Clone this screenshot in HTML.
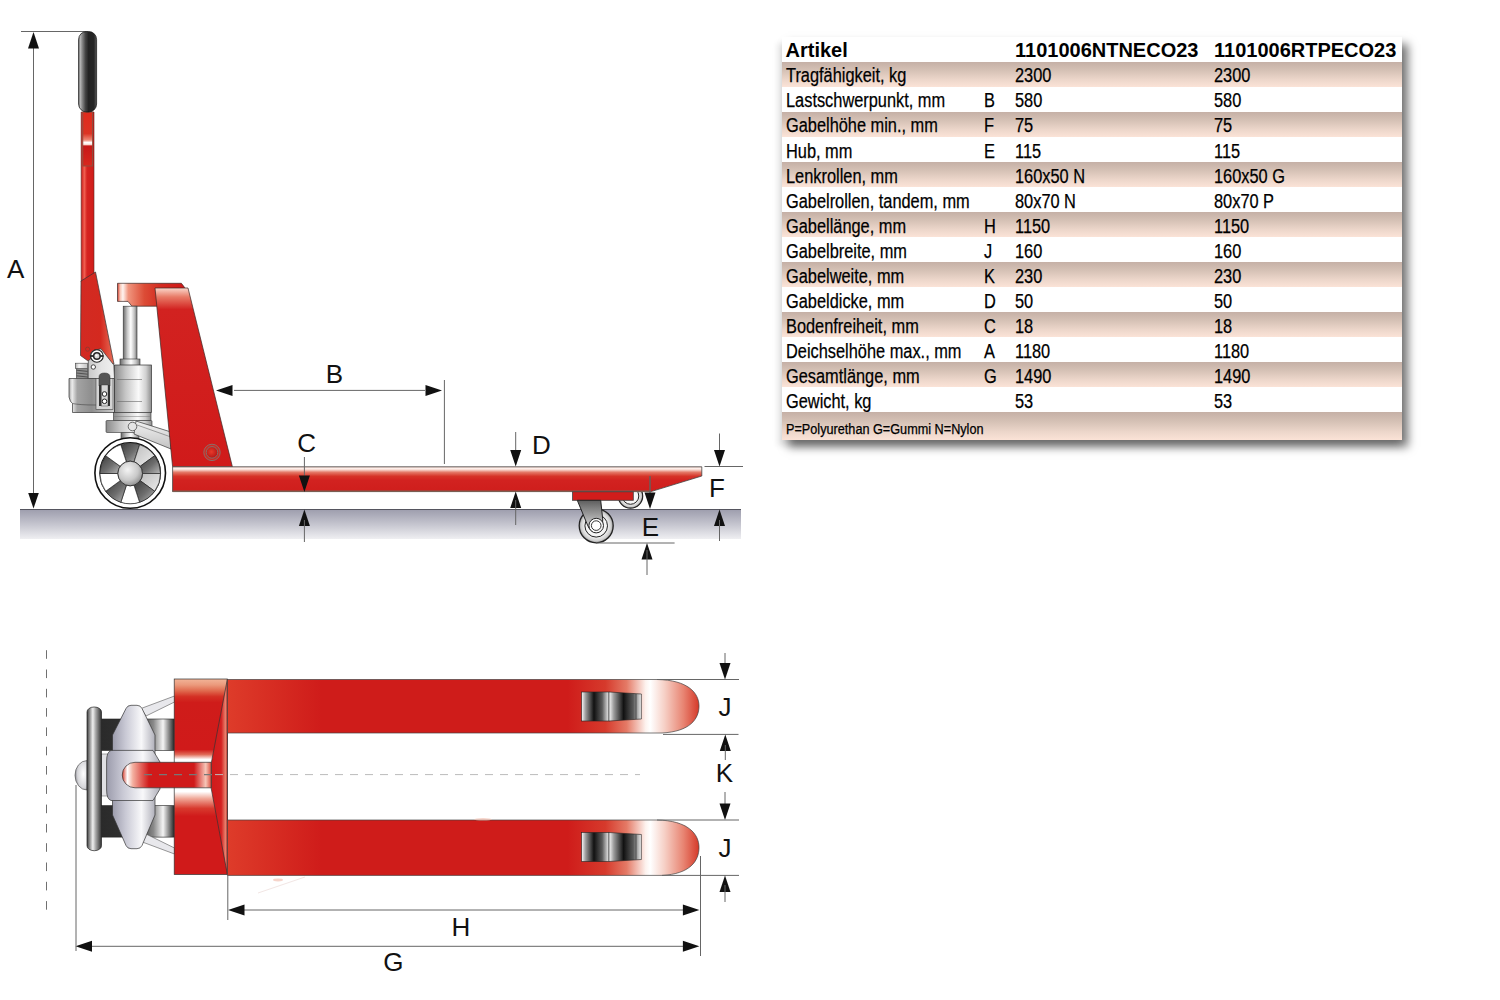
<!DOCTYPE html>
<html lang="de">
<head>
<meta charset="utf-8">
<title>Handhubwagen</title>
<style>
html,body{margin:0;padding:0;background:#fff;}
body{width:1500px;height:1000px;position:relative;overflow:hidden;font-family:"Liberation Sans",Arial,sans-serif;}
#draw{position:absolute;left:0;top:0;}
.tbl{position:absolute;left:782px;top:37px;width:620px;height:403px;background:#fff;box-shadow:6px 7px 9px rgba(0,0,0,0.55),-4px 6px 6px rgba(0,0,0,0.10);}
.row{position:absolute;left:0;width:620px;height:25px;}
.sh{background:linear-gradient(to bottom,#c5b0a6 0%,#d6c2b6 35%,#ecd6ca 70%,#fbe3d7 100%);}
.c{position:absolute;top:1.2px;white-space:nowrap;color:#000;font-size:20px;line-height:25px;transform-origin:0 50%;transform:scaleX(0.818);-webkit-text-stroke:0.25px #000;}
.hd .c{font-weight:bold;font-size:20px;transform:none;-webkit-text-stroke:0;}
.c1{left:3.5px}.c2{left:202px}.c3{left:233px}.c4{left:432px}
.row:nth-child(2) .c{top:1.28px}
.row:nth-child(3) .c{top:1.37px}
.row:nth-child(4) .c{top:1.46px}
.row:nth-child(5) .c{top:1.54px}
.row:nth-child(6) .c{top:1.62px}
.row:nth-child(7) .c{top:1.71px}
.row:nth-child(8) .c{top:1.79px}
.row:nth-child(9) .c{top:1.88px}
.row:nth-child(10) .c{top:1.96px}
.row:nth-child(11) .c{top:2.05px}
.row:nth-child(12) .c{top:2.13px}
.row:nth-child(13) .c{top:2.22px}
.row:nth-child(14) .c{top:2.30px}
.row:nth-child(15) .c{top:2.39px}
.c.fn{font-size:14px;transform:scaleX(0.905);}
</style>
</head>
<body>
<svg id="draw" width="1500" height="1000" viewBox="0 0 1500 1000">
<defs>
 <linearGradient id="gGround" x1="0" y1="0" x2="0" y2="1">
  <stop offset="0" stop-color="#9c9cac"/><stop offset="0.5" stop-color="#c4c4ce"/><stop offset="1" stop-color="#efeff2"/>
 </linearGradient>
 <linearGradient id="gForkS" x1="0" y1="0" x2="0" y2="1">
  <stop offset="0" stop-color="#f0c0b4"/><stop offset="0.05" stop-color="#fff6f2"/><stop offset="0.12" stop-color="#f8d8d0"/><stop offset="0.22" stop-color="#e47a68"/><stop offset="0.38" stop-color="#d63428"/><stop offset="0.55" stop-color="#d22220"/><stop offset="1" stop-color="#cf1e1c"/>
 </linearGradient>
 <linearGradient id="gGrip" x1="0" y1="0" x2="1" y2="0">
  <stop offset="0" stop-color="#555"/><stop offset="0.08" stop-color="#bdbdbd"/><stop offset="0.2" stop-color="#888"/><stop offset="0.38" stop-color="#444"/><stop offset="0.55" stop-color="#232323"/><stop offset="0.85" stop-color="#262626"/><stop offset="1" stop-color="#5a5a5a"/>
 </linearGradient>
 <linearGradient id="gRedBar" x1="0" y1="0" x2="1" y2="0">
  <stop offset="0" stop-color="#c81a18"/><stop offset="0.25" stop-color="#f06050"/><stop offset="0.45" stop-color="#d62420"/><stop offset="1" stop-color="#cf1c1a"/>
 </linearGradient>
 <linearGradient id="gSlot" x1="0" y1="0" x2="0" y2="1">
  <stop offset="0" stop-color="#e02a1c"/><stop offset="0.4" stop-color="#dc3424"/><stop offset="0.52" stop-color="#ee8a78"/><stop offset="0.565" stop-color="#ffffff"/><stop offset="0.6" stop-color="#fde8e0"/><stop offset="0.63" stop-color="#c81818"/><stop offset="1" stop-color="#d8281e"/>
 </linearGradient>
 <linearGradient id="gHandleLow" x1="0" y1="0" x2="1" y2="0">
  <stop offset="0" stop-color="#d22a22"/><stop offset="0.6" stop-color="#d4291f"/><stop offset="1" stop-color="#e8705a"/>
 </linearGradient>
 <linearGradient id="gHead" x1="0" y1="0" x2="1" y2="0">
  <stop offset="0" stop-color="#d23a2a"/><stop offset="0.04" stop-color="#f8c8b8"/><stop offset="0.08" stop-color="#fff4f0"/><stop offset="0.16" stop-color="#f0957e"/><stop offset="0.4" stop-color="#dc4c36"/><stop offset="0.65" stop-color="#d42a20"/><stop offset="1" stop-color="#d01818"/>
 </linearGradient>
 <linearGradient id="gFrame" x1="0" y1="0" x2="0" y2="1">
  <stop offset="0" stop-color="#fbd8cc"/><stop offset="0.05" stop-color="#e87a66"/><stop offset="0.12" stop-color="#d22220"/><stop offset="1" stop-color="#d01a1a"/>
 </linearGradient>
 <linearGradient id="gCyl" x1="0" y1="0" x2="1" y2="0">
  <stop offset="0" stop-color="#6a6a6a"/><stop offset="0.3" stop-color="#c8c8c8"/><stop offset="0.55" stop-color="#ffffff"/><stop offset="0.8" stop-color="#c4c4c4"/><stop offset="1" stop-color="#7a7a7a"/>
 </linearGradient>
 <linearGradient id="gBody" x1="0" y1="0" x2="1" y2="0">
  <stop offset="0" stop-color="#8a8a8a"/><stop offset="0.3" stop-color="#c6c6c6"/><stop offset="0.65" stop-color="#fafafa"/><stop offset="0.85" stop-color="#d0d0d0"/><stop offset="1" stop-color="#8c8c8c"/>
 </linearGradient>
 <linearGradient id="gBodyL" x1="0" y1="0" x2="1" y2="0">
  <stop offset="0" stop-color="#a8a8a8"/><stop offset="0.07" stop-color="#ececec"/><stop offset="0.18" stop-color="#a4a4a4"/><stop offset="0.5" stop-color="#8e8e8e"/><stop offset="0.8" stop-color="#b4b4b4"/><stop offset="1" stop-color="#d0d0d0"/>
 </linearGradient>
 <linearGradient id="gSpokeD" x1="0" y1="0" x2="1" y2="1">
  <stop offset="0" stop-color="#3a3a3a"/><stop offset="0.55" stop-color="#6e6e6e"/><stop offset="1" stop-color="#b8b8b8"/>
 </linearGradient>
 <linearGradient id="gSpokeL" x1="0" y1="0" x2="1" y2="1">
  <stop offset="0" stop-color="#bdbdbd"/><stop offset="1" stop-color="#ededed"/>
 </linearGradient>
 <radialGradient id="gHub" cx="0.4" cy="0.35" r="0.7">
  <stop offset="0" stop-color="#f4f4f4"/><stop offset="0.6" stop-color="#c9c9c9"/><stop offset="1" stop-color="#8a8a8a"/>
 </radialGradient>
 <linearGradient id="gArm" x1="0" y1="0" x2="0" y2="1">
  <stop offset="0" stop-color="#f2f2f2"/><stop offset="1" stop-color="#c2c2c2"/>
 </linearGradient>
 <radialGradient id="gBolt" cx="0.45" cy="0.45" r="0.6">
  <stop offset="0" stop-color="#e83a2a"/><stop offset="1" stop-color="#b01414"/>
 </radialGradient>
 <linearGradient id="gNut" x1="0" y1="0" x2="1" y2="0">
  <stop offset="0" stop-color="#b0b0b0"/><stop offset="0.3" stop-color="#f4f4f4"/><stop offset="1" stop-color="#c4c4c4"/>
 </linearGradient>
 <linearGradient id="gPlate" x1="0" y1="0" x2="1" y2="0">
  <stop offset="0" stop-color="#c8c8c8"/><stop offset="0.5" stop-color="#e4e4e4"/><stop offset="1" stop-color="#f0f0f0"/>
 </linearGradient>
 <radialGradient id="gRoller2" cx="0.5" cy="0.5" r="0.5">
  <stop offset="0" stop-color="#fff"/><stop offset="0.65" stop-color="#f4f4f4"/><stop offset="0.88" stop-color="#cfcfcf"/><stop offset="1" stop-color="#909090"/>
 </radialGradient>
 <linearGradient id="gBracket" x1="0" y1="0" x2="0" y2="1">
  <stop offset="0" stop-color="#5e5e5e"/><stop offset="0.5" stop-color="#a4a4a4"/><stop offset="1" stop-color="#ececec"/>
 </linearGradient>
 <radialGradient id="gRoller" cx="0.5" cy="0.5" r="0.5">
  <stop offset="0" stop-color="#fff"/><stop offset="0.55" stop-color="#e8e8e8"/><stop offset="0.8" stop-color="#bbb"/><stop offset="1" stop-color="#f2f2f2"/>
 </radialGradient>
</defs>

<!-- ground -->
<rect x="20" y="509" width="721" height="30" fill="url(#gGround)"/>
<line x1="20" y1="509.5" x2="741" y2="509.5" stroke="#55555f" stroke-width="1.2"/>

<!-- dimension A -->
<g stroke="#666" stroke-width="1" fill="none">
 <line x1="33.5" y1="40" x2="33.5" y2="500"/>
 <polyline points="21,31.5 86,31.5 91,34"/>
</g>
<g fill="#111">
 <polygon points="33.5,32 28,48.5 39,48.5"/>
 <polygon points="33.5,508.5 28.2,493 38.8,493"/>
</g>

<!-- handle -->
<path d="M81.2,112 L94,112 L94,275 L81.2,282 Z" fill="url(#gRedBar)" stroke="#5a2a22" stroke-width="0.6"/>
<rect x="82.8" y="112" width="9.8" height="54" fill="url(#gSlot)" stroke="#8a5040" stroke-width="0.9"/>
<rect x="78.6" y="31.5" width="18" height="80.5" rx="8" ry="8" fill="url(#gGrip)" stroke="#111" stroke-width="0.7"/>
<path d="M81,281 L95.5,272 L114,364 L87.4,360.5 L80.5,355.5 Z" fill="url(#gHandleLow)" stroke="#333" stroke-width="0.7"/>

<!-- frame head and body -->
<path d="M117.5,283.3 L181.4,283.3 L184.7,287.6 L184,306.2 L131.9,306.2 L128,301.4 L117.5,301.4 Z" fill="url(#gHead)" stroke="#3a2a28" stroke-width="0.7"/>
<!-- piston cylinder -->
<rect x="123.2" y="306.2" width="13.8" height="54" fill="url(#gCyl)" stroke="#333" stroke-width="0.6"/>
<rect x="120" y="359" width="20" height="7" fill="url(#gCyl)" stroke="#333" stroke-width="0.6"/>

<!-- pump body -->
<path d="M69,378.5 L114.5,378.5 L114.5,412.5 L72.5,412.5 L72.5,403.5 Q70,402 69,397 Z" fill="url(#gBodyL)" stroke="#333" stroke-width="0.7"/>
<path d="M72.5,403.5 Q80,405 95,405 L96,405" fill="none" stroke="#444" stroke-width="0.6"/>
<rect x="76.3" y="368.4" width="11.4" height="10.2" fill="#8c8c8c" stroke="#444" stroke-width="0.6"/>
<g stroke="#4a4a4a" stroke-width="0.9"><line x1="76.5" y1="370.2" x2="87.5" y2="371.4"/><line x1="76.5" y1="373" x2="87.5" y2="374.2"/><line x1="76.5" y1="375.8" x2="87.5" y2="377"/></g>
<rect x="75.3" y="363.2" width="12.3" height="5.4" fill="url(#gNut)" stroke="#444" stroke-width="0.6"/>
<rect x="114.5" y="365" width="37" height="47.5" fill="url(#gBody)" stroke="#333" stroke-width="0.7"/>
<path d="M88.3,378.5 L88.3,361 L90.8,358.5 A6.3,6.3 0 0 1 97,349.7 L101,348.8 L113.8,365 L114.5,378.5 Z" fill="url(#gPlate)" stroke="#333" stroke-width="0.7"/>
<circle cx="96.9" cy="356" r="6.3" fill="#fff" stroke="#222" stroke-width="1.1"/>
<circle cx="96.9" cy="356" r="4" fill="#262626"/>
<rect x="90.4" y="355.1" width="13" height="1.8" fill="#262626"/>
<circle cx="96.9" cy="356" r="2.5" fill="#d8d8d8"/>
<circle cx="96.4" cy="355.5" r="1.1" fill="#fff"/>
<circle cx="93.3" cy="367" r="2.2" fill="#fff" stroke="#333" stroke-width="0.9"/>
<circle cx="87.6" cy="349.2" r="2.1" fill="none" stroke="#7a3a30" stroke-width="0.6"/>
<rect x="96" y="378.5" width="17" height="31" fill="#d4d4d4" stroke="#444" stroke-width="0.6"/>
<path d="M99,386 L99,377 Q99,373 104.5,373 Q110,373 110,377 L110,386 Z" fill="#555" stroke="#333" stroke-width="0.5"/>
<rect x="99" y="385" width="11" height="21" fill="#333"/>
<rect x="101.2" y="385" width="6.8" height="21" fill="#d6d6d6" stroke="#333" stroke-width="0.4"/>
<circle cx="104.5" cy="394" r="2.3" fill="#fff" stroke="#222" stroke-width="1"/>
<circle cx="104.5" cy="401.3" r="2.3" fill="#fff" stroke="#222" stroke-width="1"/>
<g stroke="#666" stroke-width="0.6"><line x1="117" y1="379.5" x2="142" y2="379.5"/><line x1="117" y1="401.5" x2="142" y2="401.5"/></g>
<rect x="113.5" y="412.5" width="37.5" height="8" fill="url(#gBody)" stroke="#333" stroke-width="0.6"/>
<line x1="114" y1="416.5" x2="150" y2="416.5" stroke="#777" stroke-width="0.5"/>
<rect x="121" y="432" width="18" height="8" fill="url(#gCyl)" stroke="#333" stroke-width="0.5"/>
<rect x="106" y="420.5" width="46" height="12" rx="1" fill="url(#gBody)" stroke="#333" stroke-width="0.6"/>

<!-- wheel -->
<g>
 <circle cx="130.2" cy="473" r="35.3" fill="#fff" stroke="#111" stroke-width="1.6"/>
 <circle cx="130.2" cy="473" r="30.3" fill="#fff" stroke="#111" stroke-width="1.2"/>
 <g id="spokes" stroke="#222" stroke-width="0.7">
  <path d="M126.4,461.8 L120.8,444.7 A30.3,30.3 0 0 1 139.6,444.7 L134.0,461.8 A12.3,12.3 0 0 0 126.4,461.8 Z" fill="url(#gSpokeD)"/>
  <path d="M134.0,461.8 L139.6,444.7 A30.3,30.3 0 0 1 154.7,455.7 L140.2,466.3 A12.3,12.3 0 0 0 134.0,461.8 Z" fill="url(#gSpokeL)"/>
  <path d="M140.2,466.3 L154.7,455.7 A30.3,30.3 0 0 1 160.5,473.5 L142.5,473.5 A12.3,12.3 0 0 0 140.2,466.3 Z" fill="url(#gSpokeD)"/>
  <path d="M142.5,473.5 L160.5,473.5 A30.3,30.3 0 0 1 154.7,491.3 L140.2,480.7 A12.3,12.3 0 0 0 142.5,473.5 Z" fill="url(#gSpokeL)"/>
  <path d="M140.2,480.7 L154.7,491.3 A30.3,30.3 0 0 1 139.6,502.3 L134.0,485.2 A12.3,12.3 0 0 0 140.2,480.7 Z" fill="url(#gSpokeD)"/>
  <path d="M134.0,485.2 L139.6,502.3 A30.3,30.3 0 0 1 120.8,502.3 L126.4,485.2 A12.3,12.3 0 0 0 134.0,485.2 Z" fill="#fff"/>
  <path d="M126.4,485.2 L120.8,502.3 A30.3,30.3 0 0 1 105.7,491.3 L120.2,480.7 A12.3,12.3 0 0 0 126.4,485.2 Z" fill="url(#gSpokeD)"/>
  <path d="M120.2,480.7 L105.7,491.3 A30.3,30.3 0 0 1 99.9,473.5 L117.9,473.5 A12.3,12.3 0 0 0 120.2,480.7 Z" fill="#fff"/>
  <path d="M117.9,473.5 L99.9,473.5 A30.3,30.3 0 0 1 105.7,455.7 L120.2,466.3 A12.3,12.3 0 0 0 117.9,473.5 Z" fill="url(#gSpokeD)"/>
  <path d="M120.2,466.3 L105.7,455.7 A30.3,30.3 0 0 1 120.8,444.7 L126.4,461.8 A12.3,12.3 0 0 0 120.2,466.3 Z" fill="#fff"/>
 </g>
 <circle cx="130.2" cy="473.5" r="12.3" fill="url(#gHub)" stroke="#222" stroke-width="0.8"/>
</g>
<!-- link arm -->
<path d="M136,421 L171,432 L171,449 L134,434 Z" fill="url(#gArm)" stroke="#333" stroke-width="0.7"/>
<line x1="137" y1="425" x2="171" y2="437" stroke="#555" stroke-width="0.5"/>
<circle cx="132.5" cy="426.5" r="4.3" fill="#e6e6e6" stroke="#333" stroke-width="0.7"/>

<!-- frame body -->
<path d="M155,288 L188,288 L232.4,466.8 L172.6,466.8 Z" fill="url(#gFrame)" stroke="#3a2624" stroke-width="0.7"/>
<circle cx="212" cy="452.4" r="8.2" fill="#d02a22" stroke="#8a6e6a" stroke-width="1"/>
<circle cx="212" cy="452.4" r="5.8" fill="url(#gBolt)" stroke="#8a6e6a" stroke-width="1"/>

<!-- fork side -->
<circle cx="630.5" cy="496" r="12.2" fill="url(#gRoller2)" stroke="#222" stroke-width="1.2"/>
<circle cx="630.5" cy="496" r="8.3" fill="none" stroke="#222" stroke-width="1"/>
<path d="M172.6,466.8 L701.8,466.8 L701.8,476 L651,491.6 L172.6,491.6 Z" fill="url(#gForkS)" stroke="#444" stroke-width="0.8"/>
<line x1="172.6" y1="491.2" x2="651" y2="491.2" stroke="#7a5e52" stroke-width="1.4"/>
<line x1="650" y1="476" x2="650" y2="491.5" stroke="#6a5048" stroke-width="1"/>
<!-- fork rollers -->
<rect x="572.5" y="491.8" width="60.8" height="8.5" fill="#d11d1b" stroke="#444" stroke-width="0.8"/>
<circle cx="596.2" cy="525.8" r="17" fill="url(#gRoller2)" stroke="#222" stroke-width="1.3"/>
<circle cx="596.2" cy="525.8" r="11.3" fill="none" stroke="#222" stroke-width="1"/>
<path d="M577.3,500.3 L600.7,500.3 L602.7,519 Q603.5,531 596,532 Q590,532 587.5,525 Z" fill="url(#gBracket)" stroke="#222" stroke-width="1"/>
<circle cx="596.2" cy="525.6" r="7.3" fill="#fafafa" stroke="#222" stroke-width="1"/>
<circle cx="596.2" cy="525.6" r="4.8" fill="#fff" stroke="#222" stroke-width="0.9"/>

<defs>
 <linearGradient id="gForkT" x1="227" y1="0" x2="700" y2="0" gradientUnits="userSpaceOnUse">
  <stop offset="0" stop-color="#de3c2a"/><stop offset="0.2" stop-color="#cf1c1a"/><stop offset="0.72" stop-color="#cf1c1a"/><stop offset="0.8" stop-color="#d63a2c"/><stop offset="0.845" stop-color="#e47a66"/><stop offset="0.885" stop-color="#fdf2ee"/><stop offset="0.895" stop-color="#ffffff"/><stop offset="0.925" stop-color="#f6d0c6"/><stop offset="0.965" stop-color="#e88472"/><stop offset="1" stop-color="#d43424"/>
 </linearGradient>
 <linearGradient id="gFrameT" x1="0" y1="679" x2="0" y2="875" gradientUnits="userSpaceOnUse">
  <stop offset="0" stop-color="#f2b498"/><stop offset="0.03" stop-color="#eb9a7c"/><stop offset="0.06" stop-color="#e06a4e"/><stop offset="0.09" stop-color="#d43024"/><stop offset="0.12" stop-color="#cf1c1a"/><stop offset="0.36" stop-color="#d01a1a"/><stop offset="0.385" stop-color="#e06a58"/><stop offset="0.41" stop-color="#ffffff"/>
  <stop offset="0.575" stop-color="#ffffff"/><stop offset="0.61" stop-color="#f0a898"/><stop offset="0.66" stop-color="#d83a2e"/><stop offset="0.7" stop-color="#d01a1a"/><stop offset="1" stop-color="#d01a1a"/>
 </linearGradient>
 <linearGradient id="gChev" x1="211" y1="0" x2="228" y2="0" gradientUnits="userSpaceOnUse">
  <stop offset="0" stop-color="#d01a1a"/><stop offset="0.6" stop-color="#d42020"/><stop offset="0.85" stop-color="#e8806c"/><stop offset="1" stop-color="#c82020"/>
 </linearGradient>
 <linearGradient id="gHandleT" x1="122" y1="0" x2="212" y2="0" gradientUnits="userSpaceOnUse">
  <stop offset="0" stop-color="#d43020"/><stop offset="0.06" stop-color="#ffffff"/><stop offset="0.12" stop-color="#f4b0a0"/><stop offset="0.3" stop-color="#d01a1a"/><stop offset="0.8" stop-color="#d01a1a"/><stop offset="0.93" stop-color="#f6c6b8"/><stop offset="1" stop-color="#d84030"/>
 </linearGradient>
 <linearGradient id="gGripT" x1="0" y1="0" x2="1" y2="0">
  <stop offset="0" stop-color="#3c3c3c"/><stop offset="0.4" stop-color="#f0f0f0"/><stop offset="0.6" stop-color="#a8a8a8"/><stop offset="1" stop-color="#303030"/>
 </linearGradient>
 <linearGradient id="gWheelT" x1="101" y1="0" x2="174" y2="0" gradientUnits="userSpaceOnUse">
  <stop offset="0" stop-color="#2a2a2a"/><stop offset="0.5" stop-color="#333"/><stop offset="0.72" stop-color="#8a8a8a"/><stop offset="0.85" stop-color="#f4f4f4"/><stop offset="1" stop-color="#2a2a2a"/>
 </linearGradient>
 <linearGradient id="gSilver" x1="0" y1="0" x2="1" y2="0">
  <stop offset="0" stop-color="#9c9cac"/><stop offset="0.3" stop-color="#c8c8d4"/><stop offset="0.68" stop-color="#f8f8fa"/><stop offset="1" stop-color="#b0b0ba"/>
 </linearGradient>
 <radialGradient id="gDome" cx="0.7" cy="0.45" r="0.7">
  <stop offset="0" stop-color="#ffffff"/><stop offset="0.7" stop-color="#d4d4d8"/><stop offset="1" stop-color="#8a8a90"/>
 </radialGradient>
 <linearGradient id="gRollT" x1="0" y1="0" x2="1" y2="0">
  <stop offset="0" stop-color="#fafafa"/><stop offset="0.15" stop-color="#9a9a9a"/><stop offset="0.45" stop-color="#111"/><stop offset="0.75" stop-color="#5a5a5a"/><stop offset="1" stop-color="#f0f0f0"/>
 </linearGradient>
</defs>

<!-- dashed line left -->
<line x1="46.5" y1="650.2" x2="46.5" y2="910" stroke="#707070" stroke-width="1" stroke-dasharray="8.6,10.7"/>

<!-- wheels (behind) -->
<rect x="101.5" y="719" width="73" height="31.5" fill="url(#gWheelT)" stroke="#222" stroke-width="0.6"/>
<rect x="101.5" y="805.6" width="73" height="31.5" fill="url(#gWheelT)" stroke="#222" stroke-width="0.6"/>
<rect x="101.5" y="754" width="12" height="42" fill="#e0e0e4" stroke="#555" stroke-width="0.5"/>

<!-- struts -->
<path d="M141,708.5 L174.5,696 L174.5,702 L146,716 Z" fill="#e8e8ec" stroke="#555" stroke-width="0.6"/>
<path d="M141,841.5 L174.5,854 L174.5,848 L146,834 Z" fill="#e8e8ec" stroke="#555" stroke-width="0.6"/>

<!-- silver body -->
<path d="M112.5,762 L112.5,735 L126,708.5 Q127.5,705.3 131,705.3 L137,705.3 Q140.5,705.3 142,708.5 L155,735 L155,762 Z" fill="url(#gSilver)" stroke="#333" stroke-width="0.7"/>
<path d="M112.5,788 L112.5,815 L126,845.5 Q127.5,848.7 131,848.7 L137,848.7 Q140.5,848.7 142,845.5 L155,815 L155,788 Z" fill="url(#gSilver)" stroke="#333" stroke-width="0.7"/>
<path d="M111,750.4 L153,750.4 L160,762 L160,789 L153,800.5 L111,800.5 Q106.6,799 106.6,790 L106.6,761 Q106.6,752 111,750.4 Z" fill="url(#gSilver)" stroke="#333" stroke-width="0.7"/>

<!-- grip bar + dome -->
<path d="M87,760.6 A12,14.7 0 0 0 87,790 Z" fill="url(#gDome)" stroke="#444" stroke-width="0.6"/>
<rect x="87" y="707" width="14.5" height="143.7" rx="7" ry="5" fill="url(#gGripT)" stroke="#222" stroke-width="0.7"/>

<!-- frame block -->
<rect x="174.2" y="679" width="53.2" height="195.5" fill="url(#gFrameT)" stroke="#333" stroke-width="0.7"/>
<path d="M227.4,679 L211.2,763.5 L211.2,788.3 L227.4,874.5 Z" fill="url(#gChev)" stroke="#333" stroke-width="0.7"/>

<!-- handle bar -->
<path d="M211.2,762.3 L135,762.3 A12.75,12.75 0 0 0 135,787.8 L211.2,787.8 Z" fill="url(#gHandleT)" stroke="#333" stroke-width="0.7"/>

<!-- forks -->
<path d="M227.4,679.5 L657,679.5 C688,680 699,693 699,706 C699,719 690,731.5 662,733 L227.4,733 Z" fill="url(#gForkT)" stroke="#444" stroke-width="0.7"/>
<path d="M227.4,820 L657,820 C688,820.5 699,834 699,847.5 C699,861 690,874 662,875.4 L227.4,875.4 Z" fill="url(#gForkT)" stroke="#444" stroke-width="0.7"/>
<!-- fork rollers -->
<g stroke="#222" stroke-width="0.6">
 <rect x="581.6" y="692" width="27.4" height="29" fill="url(#gRollT)"/>
 <path d="M609,692 L641.4,694 L641.4,719 L609,721 Z" fill="url(#gRollT)"/>
 <line x1="636" y1="694" x2="636" y2="719"/>
 <rect x="581.6" y="832.5" width="27.4" height="29" fill="url(#gRollT)"/>
 <path d="M609,832.5 L641.4,834.5 L641.4,859.5 L609,861.5 Z" fill="url(#gRollT)"/>
 <line x1="636" y1="834.5" x2="636" y2="859.5"/>
</g>

<!-- faint artifacts -->
<ellipse cx="278" cy="880" rx="5" ry="1.4" fill="#f2c2b4" opacity="0.7"/>
<ellipse cx="483" cy="819.3" rx="9" ry="1.3" fill="#f2c2b4" opacity="0.7"/>
<line x1="258" y1="893" x2="305" y2="877" stroke="#f2e6e4" stroke-width="1"/>
<!-- center dashed -->
<line x1="144" y1="774.6" x2="215" y2="774.6" stroke="#777" stroke-width="1.2" stroke-dasharray="8,7"/>
<line x1="215" y1="774.6" x2="640" y2="774.6" stroke="#bbb" stroke-width="1" stroke-dasharray="8,7"/>

<line x1="234" y1="390.4" x2="425" y2="390.4" stroke="#666" stroke-width="1.0"/>
<polygon points="216.0,390.4 232.5,384.9 232.5,395.9" fill="#111"/>
<polygon points="442.0,390.4 425.5,384.9 425.5,395.9" fill="#111"/>
<line x1="444.4" y1="380" x2="444.4" y2="464" stroke="#666" stroke-width="1.0"/>
<line x1="304.4" y1="457" x2="304.4" y2="480" stroke="#666" stroke-width="1.0"/>
<polygon points="304.4,492.0 298.9,475.5 309.9,475.5" fill="#111"/>
<polygon points="304.4,509.5 298.9,526.0 309.9,526.0" fill="#111"/>
<line x1="304.4" y1="520" x2="304.4" y2="542" stroke="#666" stroke-width="1.0"/>
<line x1="515.7" y1="432" x2="515.7" y2="455" stroke="#666" stroke-width="1.0"/>
<polygon points="515.7,466.5 510.2,450.0 521.2,450.0" fill="#111"/>
<polygon points="515.7,491.5 510.2,508.0 521.2,508.0" fill="#111"/>
<line x1="515.7" y1="500" x2="515.7" y2="525" stroke="#666" stroke-width="1.0"/>
<line x1="719.5" y1="433.5" x2="719.5" y2="455" stroke="#666" stroke-width="1.0"/>
<polygon points="719.5,466.5 714.0,450.0 725.0,450.0" fill="#111"/>
<line x1="704.5" y1="466.5" x2="743" y2="466.5" stroke="#666" stroke-width="1.0"/>
<polygon points="719.5,509.5 714.0,526.0 725.0,526.0" fill="#111"/>
<line x1="719.5" y1="520" x2="719.5" y2="541" stroke="#666" stroke-width="1.0"/>
<line x1="650" y1="476" x2="650" y2="495" stroke="#666" stroke-width="1.0"/>
<polygon points="650.0,509.0 644.5,492.5 655.5,492.5" fill="#111"/>
<line x1="596" y1="543" x2="674.6" y2="543" stroke="#666" stroke-width="1.0"/>
<polygon points="647.0,543.0 641.5,559.5 652.5,559.5" fill="#111"/>
<line x1="647" y1="550" x2="647" y2="575" stroke="#666" stroke-width="1.0"/>
<line x1="725" y1="653" x2="725" y2="668" stroke="#666" stroke-width="1.0"/>
<polygon points="725.0,679.5 719.5,663.0 730.5,663.0" fill="#111"/>
<line x1="657" y1="679.5" x2="739" y2="679.5" stroke="#666" stroke-width="1.0"/>
<line x1="663" y1="734.4" x2="738.5" y2="734.4" stroke="#666" stroke-width="1.0"/>
<polygon points="725.3,734.4 719.8,750.9 730.8,750.9" fill="#111"/>
<line x1="725.3" y1="745" x2="725.3" y2="760" stroke="#666" stroke-width="1.0"/>
<line x1="725" y1="792" x2="725" y2="810" stroke="#666" stroke-width="1.0"/>
<polygon points="725.0,820.0 719.5,803.5 730.5,803.5" fill="#111"/>
<line x1="657" y1="820" x2="739" y2="820" stroke="#666" stroke-width="1.0"/>
<line x1="662" y1="875.4" x2="739" y2="875.4" stroke="#666" stroke-width="1.0"/>
<polygon points="725.0,875.4 719.5,891.9 730.5,891.9" fill="#111"/>
<line x1="725" y1="885" x2="725" y2="902" stroke="#666" stroke-width="1.0"/>
<line x1="237" y1="910" x2="690" y2="910" stroke="#666" stroke-width="1.0"/>
<polygon points="228.0,910.0 244.5,904.5 244.5,915.5" fill="#111"/>
<polygon points="699.4,910.0 682.9,904.5 682.9,915.5" fill="#111"/>
<line x1="227.8" y1="875" x2="227.8" y2="920" stroke="#666" stroke-width="1.0"/>
<line x1="85" y1="946.3" x2="690" y2="946.3" stroke="#666" stroke-width="1.0"/>
<polygon points="75.5,946.3 92.0,940.8 92.0,951.8" fill="#111"/>
<polygon points="699.4,946.3 682.9,940.8 682.9,951.8" fill="#111"/>
<line x1="76" y1="785" x2="76" y2="951" stroke="#666" stroke-width="1.0"/>
<line x1="700.5" y1="856" x2="700.5" y2="956" stroke="#666" stroke-width="1.0"/>
<g font-family="Liberation Sans, Arial, sans-serif" font-size="26" fill="#111">
<text x="7" y="277.8">A</text>
<text x="325.7" y="383.4">B</text>
<text x="297.2" y="451.6">C</text>
<text x="532" y="453.7">D</text>
<text x="641.8" y="535.8">E</text>
<text x="709" y="497.4">F</text>
<text x="718.6" y="716.0">J</text>
<text x="715.7" y="782.2">K</text>
<text x="718.6" y="856.6">J</text>
<text x="451.6" y="936.0">H</text>
<text x="383.2" y="970.6">G</text>
</g>

</svg>
<div class="tbl">
 <div class="row hd" style="top:0"><span class="c c1">Artikel</span><span class="c c3">1101006NTNECO23</span><span class="c c4">1101006RTPECO23</span></div>
 <div class="row sh" style="top:25px"><span class="c c1">Tragfähigkeit, kg</span><span class="c c3">2300</span><span class="c c4">2300</span></div>
 <div class="row" style="top:50px"><span class="c c1">Lastschwerpunkt, mm</span><span class="c c2">B</span><span class="c c3">580</span><span class="c c4">580</span></div>
 <div class="row sh" style="top:75px"><span class="c c1">Gabelhöhe min., mm</span><span class="c c2">F</span><span class="c c3">75</span><span class="c c4">75</span></div>
 <div class="row" style="top:100px"><span class="c c1">Hub, mm</span><span class="c c2">E</span><span class="c c3">115</span><span class="c c4">115</span></div>
 <div class="row sh" style="top:125px"><span class="c c1">Lenkrollen, mm</span><span class="c c3">160x50 N</span><span class="c c4">160x50 G</span></div>
 <div class="row" style="top:150px"><span class="c c1">Gabelrollen, tandem, mm</span><span class="c c3">80x70 N</span><span class="c c4">80x70 P</span></div>
 <div class="row sh" style="top:175px"><span class="c c1">Gabellänge, mm</span><span class="c c2">H</span><span class="c c3">1150</span><span class="c c4">1150</span></div>
 <div class="row" style="top:200px"><span class="c c1">Gabelbreite, mm</span><span class="c c2">J</span><span class="c c3">160</span><span class="c c4">160</span></div>
 <div class="row sh" style="top:225px"><span class="c c1">Gabelweite, mm</span><span class="c c2">K</span><span class="c c3">230</span><span class="c c4">230</span></div>
 <div class="row" style="top:250px"><span class="c c1">Gabeldicke, mm</span><span class="c c2">D</span><span class="c c3">50</span><span class="c c4">50</span></div>
 <div class="row sh" style="top:275px"><span class="c c1">Bodenfreiheit, mm</span><span class="c c2">C</span><span class="c c3">18</span><span class="c c4">18</span></div>
 <div class="row" style="top:300px"><span class="c c1">Deichselhöhe max., mm</span><span class="c c2">A</span><span class="c c3">1180</span><span class="c c4">1180</span></div>
 <div class="row sh" style="top:325px"><span class="c c1">Gesamtlänge, mm</span><span class="c c2">G</span><span class="c c3">1490</span><span class="c c4">1490</span></div>
 <div class="row" style="top:350px"><span class="c c1">Gewicht, kg</span><span class="c c3">53</span><span class="c c4">53</span></div>
 <div class="row sh" style="top:375px;height:28px"><span class="c c1 fn" style="line-height:28px;top:3px">P=Polyurethan G=Gummi N=Nylon</span></div>
</div>
</body>
</html>
